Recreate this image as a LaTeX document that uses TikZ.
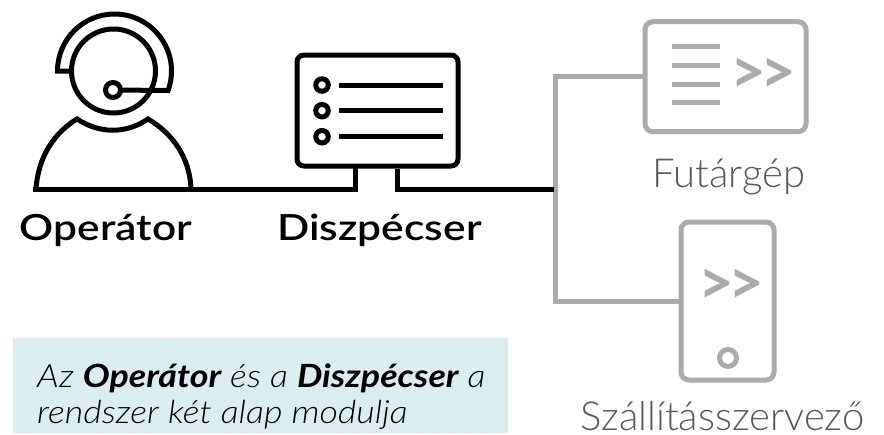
\documentclass[tikz,border=0pt]{standalone}
\usepackage{fontspec}
\setmainfont{Lato Light}[BoldFont={Lato Bold},ItalicFont={Lato Light Italic},BoldItalicFont={Lato Bold Italic}]
\newfontfamily\labelfont{Lato Semibold}[FakeStretch=1.18]
\newfontfamily\notefont{Lato Light Italic}[BoldFont={Lato Bold Italic},FakeStretch=1.12]
\usetikzlibrary{positioning, calc}
\definecolor{modgray}{HTML}{ABABAB}
\definecolor{labgray}{HTML}{555A5E}
\definecolor{notebg}{HTML}{DAEEF0}
\tikzset{
  icon/.style={draw=black, line width=5pt},
  iconbox/.style={icon, rounded corners=7pt, inner sep=0pt, fill=none},
  grayicon/.style={draw=modgray, line width=5pt},
  grayicn box/.style={grayicon, rounded corners=8pt, inner sep=0pt},
  mainlabel/.style={anchor=base, inner sep=0pt, font=\labelfont\fontsize{36}{40}\selectfont, text=black},
  modlabel/.style={anchor=base, inner sep=0pt, font=\fontsize{40}{46}\selectfont, text=labgray},
  notetext/.style={anchor=base west, inner sep=0pt, font=\notefont\fontsize{32}{37}\selectfont},
  chevrons/.style={font=\bfseries\fontsize{62}{62}\selectfont, text=modgray, inner sep=0pt},
}
\begin{document}
\begin{tikzpicture}[x=1pt, y=-1pt]
\useasboundingbox (0,0) rectangle (884,434);
% note
\node[fill=notebg, minimum width=495pt, minimum height=95pt, inner sep=0pt] (note) at (260,385.5) {};
\node[notetext] (note1) at (37,387) {Az \textbf{Operátor} és a \textbf{Diszpécser} a};
\node[notetext] (note2) at (37,423) {rendszer két alap modulja};
% operator
\coordinate (head) at (113.5,71);
\coordinate (mic) at (113,90);
\coordinate (baseL) at (36,189.5);
\coordinate (baseR) at (191,189.5);
\draw[icon] (head) circle[radius=42];
\draw[icon] (71,71) -- (57.5,71) arc[start angle=180, end angle=380, radius=57] -- (mic);
\node[icon, circle, fill=white, minimum size=15pt, inner sep=0pt] (micn) at (mic) {};
\draw[icon] (baseL) .. controls (38,157) and (54,133) .. (77,119)
  .. controls (100,134) and (126,134) .. (148,119)
  .. controls (172,133) and (190,157) .. (baseR);
% dispatcher
\node[iconbox, minimum width=161pt, minimum height=111pt] (disp) at (377.5,110.5) {};
\foreach \rowy in {85,110.7,136.7} {
  \node[icon, circle, minimum size=12.5pt, inner sep=0pt] (dot\rowy) at (322,\rowy) {};
  \draw[icon] (339,\rowy) -- (442.5,\rowy);
}
\coordinate (legL) at ($(disp.south)+(-22,0)$);
\coordinate (legR) at ($(disp.south)+(20,0)$);
\coordinate (junction) at (554,189.5);
% courier machine, phone
\node[grayicn box, minimum width=161pt, minimum height=110pt] (futar) at (725.5,76.7) {};
\node[grayicn box, minimum width=93pt, minimum height=158pt] (phone) at (727.5,301) {};
\coordinate (busT) at (555.5,76.7);
\coordinate (busB) at (555.5,301);
\draw[grayicon, line join=miter] (futar.west) -- (busT) -- (busB) -- (phone.west);
\draw[icon, line width=5.5pt, line join=miter, line cap=rect] ($(baseL)+(-0.5,0)$) -- (legL |- baseL) -- (legL);
\draw[icon, line width=5.5pt, line join=miter] (legR) -- (legR |- junction) -- (junction);
\foreach \rowy in {46.7,65,84,102.7} {
  \draw[grayicon] (671.7,\rowy) -- (720,\rowy);
}
\node[chevrons] (futarmark) at (763,76) {{>}\kern-6pt{>}};
\node[chevrons] (phonemark) at (731,287) {{>}\kern-6pt{>}};
\node[grayicon, circle, minimum size=17pt, inner sep=0pt] (phonebtn) at (728,358) {};
% labels
\node[mainlabel] (oplabel) at (106,240) {Operátor};
\node[mainlabel] (displabel) at (379.5,240) {Diszpécser};
\node[modlabel] (futarlabel) at (729,187) {Futárgép};
\node[modlabel] (phonelabel) at (722.5,430.5) {Szállításszervező};
\end{tikzpicture}
\end{document}
